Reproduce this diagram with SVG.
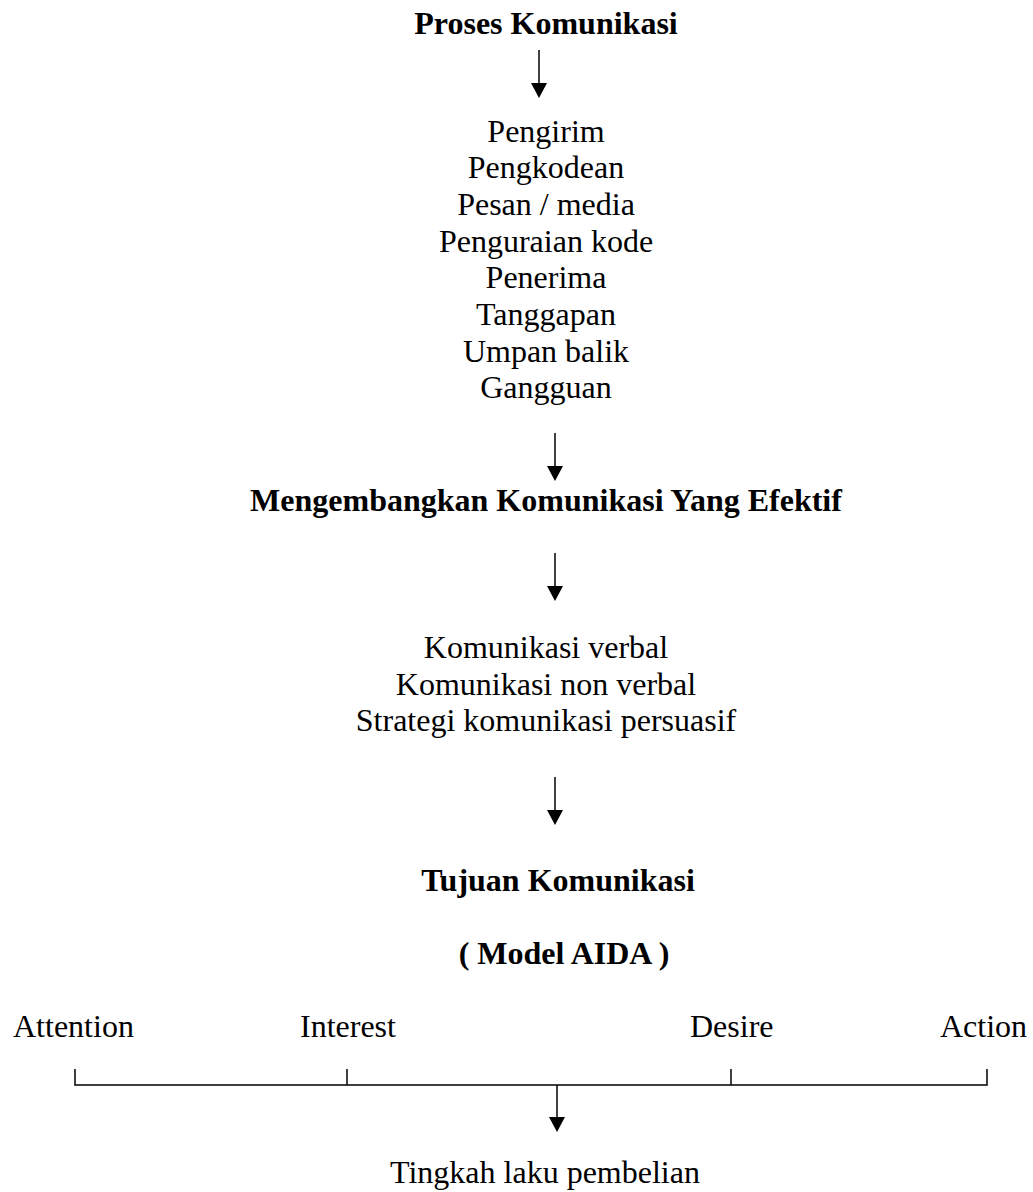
<svg xmlns="http://www.w3.org/2000/svg" width="1033" height="1192" viewBox="0 0 1033 1192">
<style>
text{font-family:"Liberation Serif","Times New Roman",serif;font-size:32px;fill:#000}
.b{font-weight:bold}
.c{text-anchor:middle}
.ln{stroke:#000;stroke-width:1.5;fill:none}
.ah{fill:#000;stroke:none}
</style>
<rect width="1033" height="1192" fill="#fff"/>
<g id="proses"><text class="b c" x="546" y="34">Proses Komunikasi</text></g>
<g id="elemen">
<text class="c" x="546" y="141.6">Pengirim</text>
<text class="c" x="546" y="178.3">Pengkodean</text>
<text class="c" x="546" y="215">Pesan / media</text>
<text class="c" x="546" y="251.7">Penguraian kode</text>
<text class="c" x="546" y="288.4">Penerima</text>
<text class="c" x="546" y="325">Tanggapan</text>
<text class="c" x="546" y="361.7">Umpan balik</text>
<text class="c" x="546" y="398.4">Gangguan</text>
</g>
<g id="mengembangkan"><text class="b c" x="546" y="511">Mengembangkan Komunikasi Yang Efektif</text></g>
<g id="jenis">
<text class="c" x="546" y="658">Komunikasi verbal</text>
<text class="c" x="546" y="694.5">Komunikasi non verbal</text>
<text class="c" x="546" y="731">Strategi komunikasi persuasif</text>
</g>
<g id="tujuan"><text class="b c" x="558" y="891">Tujuan Komunikasi</text></g>
<g id="aida"><text class="b c" x="564" y="964">( Model AIDA )</text></g>
<g id="attention"><text x="13" y="1037">Attention</text></g>
<g id="interest"><text x="300" y="1037">Interest</text></g>
<g id="desire"><text x="690" y="1037">Desire</text></g>
<g id="action"><text x="940" y="1037">Action</text></g>
<g id="tingkah"><text class="c" x="545" y="1183">Tingkah laku pembelian</text></g>
<g id="connectors">
<line class="ln" x1="539" y1="50" x2="539" y2="85"/>
<polygon class="ah" points="531,83 547,83 539,98"/>
<line class="ln" x1="555" y1="433" x2="555" y2="468"/>
<polygon class="ah" points="547,466 563,466 555,481"/>
<line class="ln" x1="555" y1="553" x2="555" y2="588"/>
<polygon class="ah" points="547,586 563,586 555,601"/>
<line class="ln" x1="555" y1="777" x2="555" y2="812"/>
<polygon class="ah" points="547,810 563,810 555,825"/>
<polyline class="ln" points="75,1069 75,1085 987,1085 987,1069"/>
<line class="ln" x1="347" y1="1069" x2="347" y2="1085"/>
<line class="ln" x1="731" y1="1069" x2="731" y2="1085"/>
<line class="ln" x1="557" y1="1085" x2="557" y2="1119"/>
<polygon class="ah" points="549,1117 565,1117 557,1132"/>
</g>
</svg>
